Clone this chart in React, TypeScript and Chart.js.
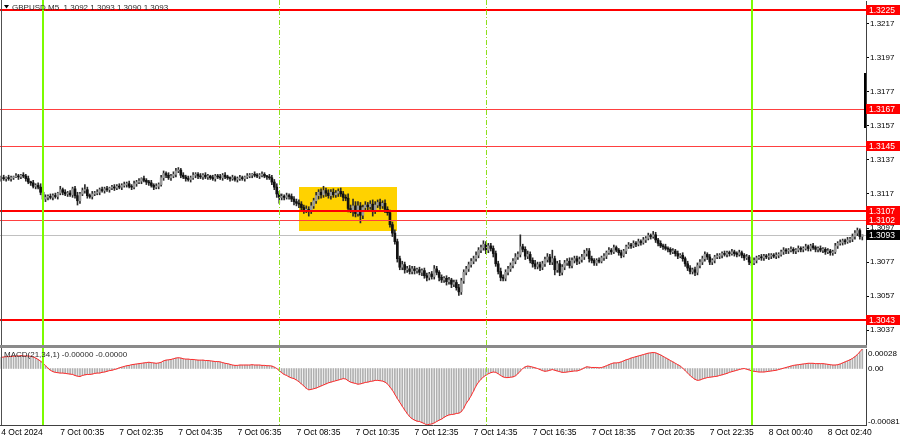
import React, { useEffect, useRef } from "react";
import { Chart, registerables } from "chart.js";

Chart.register(...registerables);

const FONT = '"Liberation Sans", Arial, "DejaVu Sans", sans-serif';

// ---------- data ----------
const SYMBOL = "GBPUSD,M5";
const MACD_TITLE = "MACD(21,34,1) -0.00000 -0.00000";
const SLOT_COUNT = 352; // visible bar slots
const TICK_EVERY = 24; // one time label every 24 bars (2 hours)
const timeTickLabels = [
  "4 Oct 2024", "7 Oct 00:35", "7 Oct 02:35", "7 Oct 04:35", "7 Oct 06:35",
  "7 Oct 08:35", "7 Oct 10:35", "7 Oct 12:35", "7 Oct 14:35", "7 Oct 16:35",
  "7 Oct 18:35", "7 Oct 20:35", "7 Oct 22:35", "8 Oct 00:40", "8 Oct 02:40",
];

const PIP_BASE = 1.3; // prices below are pips above 1.3000
const PIP = 0.0001;
const firstOpenPips = 126;
const closePips = [
  126.5, 126, 126.5, 126, 126.5, 127, 127.5, 127, 128, 127.5,
  126, 124, 123.5, 121.5, 122, 121, 118, 114, 115, 115.5,
  115, 116, 115.5, 117.5, 119.5, 118, 117, 117.5, 116.5, 120,
  116, 113, 117, 119, 119.5, 116, 115.5, 117, 117.5, 118,
  119.5, 119, 120, 119.5, 120.5, 121, 120.5, 121.5, 121, 122,
  122.5, 123, 121.5, 121, 123, 124, 124.5, 126, 125, 124,
  123.5, 122, 121, 121.5, 122.5, 126.5, 129, 128, 126.5, 127.5,
  128.5, 130.5, 131, 128, 127, 126, 125.5, 126.5, 128, 128.5,
  127.5, 127, 128, 127, 127.5, 126.5, 126, 127.5, 127, 126.5,
  128, 127, 126.5, 126, 126.5, 125.5, 126, 126.5, 126, 127,
  127.5, 128, 128.5, 128, 127.5, 128, 128.5, 127.5, 127, 126.5,
  124, 121, 117, 115, 115.5, 115, 116, 115.5, 114, 112.5,
  111.5, 111, 109, 107.5, 108, 107, 110, 113, 116, 118,
  116.5, 119, 117.5, 116, 118, 116.5, 117.5, 118.5, 117, 115,
  114.5, 108.5, 107.5, 110, 105.5, 110, 104.5, 109, 110.5, 109.5,
  111, 107, 110.5, 112, 110, 111.5, 108, 106, 99, 94,
  89, 79, 74, 75.5, 72.5, 73, 71.5, 73, 72, 72.5,
  71, 72, 69, 68, 70, 68.5, 73, 71, 68, 66.5,
  67.5, 65.5, 66.5, 64, 65, 62, 59.5, 66, 71, 73,
  75.5, 77.5, 79, 81, 84, 85.5, 87.5, 84, 86.5, 85,
  82, 76, 71.5, 68, 67.5, 71, 73, 75, 77.5, 80,
  81.5, 86, 84.5, 80.5, 81.5, 78, 76, 74.5, 75.5, 74,
  76, 78.5, 80, 77, 79, 72.5, 76, 71, 74, 76.5,
  77.5, 75, 78, 79, 77.5, 78.5, 80, 82, 83.5, 79,
  78, 76.5, 78, 77.5, 79.5, 80.5, 82.5, 84, 83, 85.5,
  84, 82.5, 81, 83.5, 86, 87, 86.5, 88, 87.5, 89,
  88.5, 90, 91, 92.5, 92, 93, 90, 88, 86.5, 86,
  85, 84.5, 83, 83.5, 82, 80.5, 81, 79, 76, 73.5,
  71.5, 72.5, 71, 75, 77, 79, 81.5, 80, 77, 78,
  80, 80.5, 81, 82, 81.5, 82.5, 82, 83, 82, 81.5,
  82.5, 81, 79.5, 80, 77, 76.5, 78, 79.5, 80, 79.5,
  80.5, 80, 80.5, 81, 80.5, 81, 81.5, 83, 84, 83.5,
  84, 84.5, 83.5, 84, 85, 84.5, 85, 86, 85, 86.5,
  85.5, 84.5, 85, 84, 84.5, 83, 83.5, 82.5, 83, 86.5,
  88, 88.5, 89.5, 89, 90, 90.5, 92, 94, 95.5, 92, 93,
];
const upWickPips = [
  1, 1.5, 0.5, 1.5, 1, 0.5, 1.5, 1, 0.5, 1.5,
  1, 1.5, 0.5, 1.5, 1, 1.5, 2, 1, 1.5, 1,
  1.5, 1, 1.5, 0.5, 2, 1, 1.5, 1, 1.5, 1,
  1.5, 2, 1, 1.5, 3, 1.5, 1, 1.5, 1, 1.5,
  1, 1.5, 1, 1.5, 0.5, 1, 1.5, 1, 1.5, 1,
  1.5, 1, 1.5, 1, 1.5, 1, 1.5, 0.5, 1.5, 1,
  1, 1.5, 1, 1.5, 1, 1.5, 1.5, 1, 1.5, 1,
  1.5, 1.5, 1.5, 1, 1.5, 1, 1.5, 1, 1.5, 1,
  1, 1.5, 1, 1.5, 1, 0.5, 1.5, 1, 1, 1.5,
  1, 1.5, 1, 0.5, 1.5, 1, 1, 1.5, 1, 0.5,
  1.5, 1, 0.5, 1.5, 1, 1, 1.5, 1, 0.5, 1.5,
  1.5, 1.5, 2, 1.5, 1.5, 1, 1.5, 1, 1.5, 1.5,
  1.5, 2, 1.5, 1.5, 2, 1.5, 2, 1.5, 2, 1.5,
  2, 2.5, 1.5, 2, 1.5, 2, 1.5, 1.5, 2, 1.5,
  1.5, 2.5, 2, 4, 2.5, 2.5, 2, 1.5, 2, 1.5,
  2, 2.5, 2, 1.5, 2, 1.5, 2, 1.5, 1.5, 1.5,
  2, 1.5, 1.5, 2, 1.5, 1.5, 2, 1.5, 1.5, 1,
  1.5, 1, 1.5, 1.5, 1, 1.5, 2, 1.5, 1, 1.5,
  1, 1.5, 1.5, 1, 1.5, 1.5, 2, 1.5, 1.5, 1.5,
  1.5, 1.5, 1.5, 2, 1.5, 1.5, 2, 1.5, 1.5, 1.5,
  1.5, 1.5, 1.5, 2, 1.5, 1.5, 1.5, 1.5, 1.5, 2,
  1.5, 7, 1.5, 1.5, 2, 1.5, 1.5, 2, 1.5, 1.5,
  1.5, 1.5, 2, 1.5, 5, 1.5, 1.5, 2, 1.5, 1.5,
  1.5, 2, 1.5, 1.5, 1.5, 1.5, 1.5, 2, 1.5, 1.5,
  1.5, 1, 1, 1.5, 1, 1.5, 1, 1.5, 1, 1.5,
  1, 1, 1.5, 1, 1, 1.5, 1, 1.5, 1, 1.5,
  1, 1.5, 1, 1.5, 1, 2, 1.5, 1, 1.5, 1,
  1.5, 1, 1, 1.5, 1, 1.5, 1, 1.5, 1, 1.5,
  1.5, 1, 1.5, 1.5, 1.5, 1.5, 1.5, 1, 1.5, 1,
  1, 1.5, 1, 1, 1.5, 1, 1, 1.5, 1, 1,
  1.5, 1, 1, 1.5, 1, 1, 1.5, 1, 1, 1.5,
  1, 1, 1.5, 1, 1, 1.5, 1, 1, 1.5, 1,
  1, 1.5, 1, 1, 1.5, 1, 1, 1.5, 1, 1,
  1.5, 1, 1, 1.5, 1, 1, 1.5, 1, 1, 1.5,
  1, 1.5, 1, 1, 1.5, 1, 1.5, 1.5, 1.5, 1, 0,
];
const downWickPips = [
  1.5, 1, 1.5, 1, 1.5, 1, 0.5, 1.5, 1, 1,
  1.5, 1, 1.5, 1, 1.5, 1, 1.5, 3.5, 1.5, 1.5,
  1, 1.5, 1, 1.5, 1, 1.5, 1, 1.5, 1, 1.5,
  1.5, 2.5, 1.5, 1, 1.5, 1.5, 1, 1.5, 1, 1,
  1.5, 1, 1.5, 1, 1.5, 1, 1.5, 1, 1, 1.5,
  1, 1.5, 1, 1.5, 1, 1.5, 1, 1.5, 1, 1.5,
  1.5, 1, 1.5, 1, 1.5, 1, 1.5, 1.5, 1, 1.5,
  1, 1.5, 1, 1.5, 1, 1.5, 1, 1.5, 1, 1.5,
  1.5, 1, 1.5, 1, 1.5, 1, 1, 1.5, 1, 1,
  1.5, 1, 1, 1.5, 1, 1, 1.5, 1, 1, 1.5,
  1, 1, 1.5, 1, 1, 1.5, 1, 1, 1.5, 1,
  1.5, 1.5, 2, 3.5, 1.5, 1.5, 1, 1.5, 1.5, 2,
  1.5, 2, 1.5, 2, 1.5, 3, 1.5, 1.5, 1.5, 2,
  2, 1.5, 2, 1.5, 2, 1.5, 1.5, 2, 1.5, 2,
  1.5, 2, 1.5, 3.5, 2, 1.5, 4.5, 2, 1.5, 2,
  1.5, 3, 1.5, 1.5, 2, 1.5, 2, 1.5, 1.5, 2,
  1.5, 2, 1.5, 1.5, 2, 1.5, 1.5, 1.5, 2, 1.5,
  1.5, 2, 1.5, 2, 1.5, 1.5, 1.5, 1.5, 2, 1.5,
  1.5, 2, 1.5, 2, 1.5, 1.5, 2, 1.5, 1.5, 1.5,
  1.5, 1.5, 1.5, 1.5, 1.5, 1.5, 1.5, 2, 1.5, 1.5,
  2, 1.5, 1.5, 2, 1.5, 1.5, 1.5, 1.5, 1.5, 1.5,
  1.5, 1.5, 1.5, 2, 1.5, 1.5, 2, 1.5, 1.5, 2,
  1.5, 1.5, 1.5, 1.5, 1.5, 3, 1.5, 2, 1.5, 1.5,
  1.5, 1.5, 1.5, 1.5, 2, 1.5, 1.5, 1.5, 1.5, 2,
  1.5, 1.5, 1.5, 1, 1, 1.5, 1.5, 1, 1.5, 1,
  1, 1.5, 1.5, 1, 1.5, 1, 1.5, 1, 1.5, 1,
  1.5, 1, 1.5, 1, 1.5, 1, 1.5, 1.5, 1, 1.5,
  1, 1.5, 1.5, 1, 1.5, 1.5, 1, 1.5, 1.5, 1.5,
  1.5, 1.5, 2, 1.5, 1.5, 1.5, 1.5, 1.5, 1.5, 1.5,
  1.5, 1, 1.5, 1.5, 1, 1.5, 1.5, 1, 1.5, 1.5,
  1, 1.5, 1.5, 1, 1.5, 1.5, 1, 1.5, 1, 1.5,
  1.5, 1, 1.5, 1.5, 1, 1.5, 1.5, 1, 1.5, 1.5,
  1.5, 1, 1.5, 1.5, 1, 1.5, 1.5, 1, 1.5, 1.5,
  1, 1.5, 1.5, 1, 1.5, 1.5, 1, 1.5, 1.5, 1,
  1.5, 1, 1.5, 1.5, 1, 1.5, 1.5, 1.5, 1.5, 1.5, 2,
];
// MACD main line, in units of 0.00001
const macdE5 = [
  16, 16.5, 17, 17, 17.5, 17.5, 18, 18, 18.5, 18,
  18, 18, 17.5, 16.5, 15, 13, 10.5, 7.5, 4, 0.5,
  -2.5, -4.5, -5.5, -6, -6.5, -6.5, -7, -7.5, -8, -8.5,
  -10, -11, -11.5, -10, -9, -8.5, -8.5, -8, -7, -6.5,
  -6.5, -5.5, -5, -4, -3, -2.5, -1.5, -0.5, 1, 2,
  3, 4, 4.5, 5.5, 6, 6.5, 7, 7.5, 8, 8.5,
  9, 8.5, 8, 7.5, 8, 9, 11, 12, 12.5, 13,
  14, 15, 15.5, 15, 14, 13.5, 13.5, 13, 13, 12.5,
  12, 12, 12, 11.5, 11.5, 11, 10.5, 10, 10, 9.5,
  8.5, 7.5, 7, 6, 5, 4.5, 4.5, 5, 5, 5,
  5, 5, 5.5, 5, 5, 5, 4.5, 4.5, 4, 4,
  3.5, 2, 0, -3, -6, -8.5, -10, -12, -13.5, -14.5,
  -16.5, -19, -22, -25, -28.5, -30.5, -30, -29, -28, -26.5,
  -25, -23.5, -22, -20.5, -19.5, -18.5, -17.5, -16.5, -15.5, -14.5,
  -15, -17.5, -19.5, -20.5, -21.5, -22.5, -22, -21, -20, -19.5,
  -18.5, -18, -17, -17, -17.5, -18, -19.5, -22, -26.5, -31,
  -37, -43, -48.5, -54, -59.5, -64.5, -69, -72, -74, -75.5,
  -76, -77.5, -79, -81, -80, -79.5, -78, -76, -74, -72.5,
  -70, -68, -66.5, -66, -65.5, -64.5, -64, -62, -57, -50,
  -45, -39, -32, -25, -19.5, -15.5, -12, -9.5, -7.5, -6,
  -5, -5.5, -7.5, -10, -12, -13, -13, -12.5, -12, -10.5,
  -7.5, -3.5, 0, 2.5, 3.5, 3, 2, 1, 0, -1.5,
  -3, -4, -3.5, -2.5, -1.5, -2.5, -3.5, -4.5, -5.5, -5.5,
  -5, -4.5, -4, -3.5, -3.5, -2.5, -1, 1, 2.5, 2,
  1.5, 1.5, 1.5, 1, 1.5, 2.5, 4, 5.5, 7, 8,
  8, 8.5, 9.5, 11, 12.5, 13.5, 15, 16, 17, 18,
  19, 20, 21, 22, 22.5, 23, 22.5, 21, 19.5, 17.5,
  15.5, 13.5, 11.5, 9.5, 7.5, 5.5, 3.5, 0.5, -3, -6.5,
  -10, -13, -15.5, -17, -16.5, -15, -14, -13, -12.5, -12,
  -11.5, -11, -10, -9, -8, -7, -5.5, -4.5, -3.5, -2.5,
  -1.5, -0.5, 0, -1, -2, -3.5, -4, -4.5, -5, -5,
  -5, -4.5, -4, -3.5, -3, -2.5, -1.5, -0.5, 0.5, 1.5,
  2.5, 3.5, 4.5, 5, 5.5, 6, 6.5, 7, 7.5, 7.5,
  7.5, 7, 7, 7, 7, 6.5, 6, 5.5, 5, 5,
  5.5, 6.5, 8, 9.5, 11, 12.5, 14.5, 17, 20, 24, 28,
];

const priceTicks = [1.3037, 1.3057, 1.3077, 1.3097, 1.3117, 1.3137, 1.3157, 1.3177, 1.3197, 1.3217];
const priceAxisMin = 1.302832;
const priceAxisMax = 1.323028;

const levelPrices = [1.3225, 1.3167, 1.3145, 1.3107, 1.3102, 1.3043];
const levelWidths = [2, 1, 1, 2, 1, 2];
const bidPrice = 1.3093;

// time markers (bar indexes)
const solidVLineBars = [17, 305];
const dashedVLineBars = [113, 197];

// highlighted zone
const zoneStartBar = 121;
const zoneEndBar = 161;
const zoneTopPrice = 1.3121;
const zoneBottomPrice = 1.3095;

// marker on the right edge
const edgeMarkTop = 1.3188;
const edgeMarkBottom = 1.31557;

// ---------- derived tables ----------
const toPrice = (p: number) => Math.round((PIP_BASE + p * PIP) * 100000) / 100000;
const slotLabels = Array.from({ length: SLOT_COUNT }, (_, i) => String(i));
const openPips = closePips.map((c, i) => (i === 0 ? firstOpenPips : closePips[i - 1]));
const highPips = closePips.map((c, i) => Math.max(openPips[i], c) + upWickPips[i]);
const lowPips = closePips.map((c, i) => Math.min(openPips[i], c) - downWickPips[i]);
const bodies = closePips.map((c, i) => [toPrice(openPips[i]), toPrice(c)]);
const wicks = closePips.map((c, i) => [toPrice(lowPips[i]), toPrice(highPips[i])]);
const bodyFill = closePips.map((c, i) => (c > openPips[i] ? "#9a9a9a" : "#111111"));
const macdValues = macdE5.map((v) => v * 1e-5);
const macdMax = Math.max(...macdE5) * 1e-5;
const macdMin = Math.min(...macdE5) * 1e-5;

const last = closePips.length - 1;
const headerText = `${SYMBOL}  ${toPrice(openPips[last]).toFixed(4)} ${toPrice(highPips[last]).toFixed(4)} ${toPrice(lowPips[last]).toFixed(4)} ${toPrice(closePips[last]).toFixed(4)}`;

// ---------- drawing helpers ----------
function drawVLines(ctx: CanvasRenderingContext2D, x: any, top: number, bottom: number) {
  ctx.save();
  ctx.strokeStyle = "#7cfc00";
  ctx.lineWidth = 2;
  solidVLineBars.forEach((b) => {
    const px = Math.round(x.getPixelForValue(b));
    ctx.beginPath();
    ctx.moveTo(px, top);
    ctx.lineTo(px, bottom);
    ctx.stroke();
  });
  ctx.lineWidth = 1;
  ctx.strokeStyle = "#8fe01a";
  ctx.setLineDash([5, 2, 1, 2]);
  dashedVLineBars.forEach((b) => {
    const px = Math.round(x.getPixelForValue(b)) + 0.5;
    ctx.beginPath();
    ctx.moveTo(px, top);
    ctx.lineTo(px, bottom);
    ctx.stroke();
  });
  ctx.restore();
}

function leftBorder(ctx: CanvasRenderingContext2D, bottom: number) {
  ctx.save();
  ctx.strokeStyle = "#505050";
  ctx.lineWidth = 1;
  ctx.beginPath();
  ctx.moveTo(1.5, 0);
  ctx.lineTo(1.5, bottom);
  ctx.stroke();
  ctx.restore();
}

const zeroPad = (s: any) => {
  s.paddingTop = 0;
  s.paddingBottom = 0;
  s.paddingLeft = 0;
  s.paddingRight = 0;
};

const mainOverlay = {
  id: "mainOverlay",
  beforeDatasetsDraw(chart: any) {
    const { ctx, chartArea: a, scales } = chart;
    const x = scales.x;
    const y = scales.y;
    ctx.save();
    ctx.beginPath();
    ctx.rect(a.left, a.top, a.right - a.left, a.bottom - a.top);
    ctx.clip();
    const x1 = Math.round(x.getPixelForValue(zoneStartBar));
    const x2 = Math.round(x.getPixelForValue(zoneEndBar));
    const y1 = Math.round(y.getPixelForValue(zoneTopPrice));
    const y2 = Math.round(y.getPixelForValue(zoneBottomPrice));
    ctx.fillStyle = "#ffd200";
    ctx.fillRect(x1, y1, x2 - x1, y2 - y1);
    const yb = Math.round(y.getPixelForValue(bidPrice)) + 0.5;
    ctx.strokeStyle = "#c0c0c0";
    ctx.lineWidth = 1;
    ctx.beginPath();
    ctx.moveTo(a.left, yb);
    ctx.lineTo(a.right, yb);
    ctx.stroke();
    ctx.restore();
  },
  afterDatasetsDraw(chart: any) {
    const { ctx, chartArea: a, scales } = chart;
    const x = scales.x;
    const y = scales.y;
    ctx.save();
    ctx.beginPath();
    ctx.rect(a.left, 0, a.right - a.left, a.bottom);
    ctx.clip();
    levelPrices.forEach((p, i) => {
      const w = levelWidths[i];
      const py = Math.round(y.getPixelForValue(p)) + (w === 1 ? 0.5 : 0);
      ctx.strokeStyle = w === 1 ? "#ff4040" : "#ff0000";
      ctx.lineWidth = w;
      ctx.beginPath();
      ctx.moveTo(a.left, py);
      ctx.lineTo(a.right, py);
      ctx.stroke();
    });
    drawVLines(ctx, x, 0, a.bottom);
    ctx.restore();
  },
  afterDraw(chart: any) {
    const { ctx, chartArea: a, scales } = chart;
    const y = scales.y;
    ctx.save();
    ctx.font = `8.5px ${FONT}`;
    ctx.textBaseline = "middle";
    ctx.textAlign = "left";
    levelPrices.forEach((p) => {
      const py = Math.round(y.getPixelForValue(p));
      ctx.fillStyle = "#ff0000";
      ctx.fillRect(a.right, py - 5, 34, 10);
      ctx.fillStyle = "#ffffff";
      ctx.fillText(p.toFixed(4), a.right + 3, py + 0.5);
    });
    const pb = Math.round(y.getPixelForValue(bidPrice));
    ctx.fillStyle = "#000000";
    ctx.fillRect(a.right, pb - 5, 34, 10);
    ctx.fillStyle = "#ffffff";
    ctx.fillText(bidPrice.toFixed(4), a.right + 3, pb + 0.5);

    // marker at right edge
    ctx.strokeStyle = "#000";
    ctx.lineWidth = 2;
    ctx.beginPath();
    ctx.moveTo(a.right - 1, y.getPixelForValue(edgeMarkTop));
    ctx.lineTo(a.right - 1, y.getPixelForValue(edgeMarkBottom));
    ctx.stroke();

    // header
    ctx.fillStyle = "#000";
    ctx.beginPath();
    ctx.moveTo(4, 5);
    ctx.lineTo(9, 5);
    ctx.lineTo(6.5, 8.5);
    ctx.closePath();
    ctx.fill();
    ctx.fillStyle = "#2a2a2a";
    ctx.font = `8px ${FONT}`;
    ctx.fillText(headerText, 12, 7.5);
    ctx.restore();
    leftBorder(ctx, chart.height);
  },
};

const macdOverlay = {
  id: "macdOverlay",
  afterDatasetsDraw(chart: any) {
    const { ctx, chartArea: a, scales } = chart;
    ctx.save();
    ctx.beginPath();
    ctx.rect(a.left, 0, a.right - a.left, a.bottom);
    ctx.clip();
    drawVLines(ctx, scales.x, 0, a.bottom);
    ctx.restore();
  },
  afterDraw(chart: any) {
    const { ctx, chartArea: a, scales } = chart;
    const y = scales.y;
    ctx.save();
    ctx.font = `8px ${FONT}`;
    ctx.textBaseline = "middle";
    ctx.textAlign = "left";
    ctx.fillStyle = "#2a2a2a";
    ctx.fillText(MACD_TITLE, 4, a.top + 6);
    ctx.fillStyle = "#000";
    const items: [string, number][] = [
      [macdMax.toFixed(5), a.top + 5],
      ["0.00", Math.round(y.getPixelForValue(0))],
      [macdMin.toFixed(5), a.bottom - 3.5],
    ];
    items.forEach(([txt, py]) => {
      ctx.fillText(txt, a.right + 2, py);
    });
    ctx.restore();
    leftBorder(ctx, a.bottom);
  },
};

export default function App() {
  const mainRef = useRef<HTMLCanvasElement>(null);
  const macdRef = useRef<HTMLCanvasElement>(null);

  useEffect(() => {
    document.body.style.margin = "0";
    const main = new Chart(mainRef.current as HTMLCanvasElement, {
      type: "bar",
      data: {
        labels: slotLabels,
        datasets: [
          {
            label: "body",
            data: bodies as any,
            backgroundColor: bodyFill,
            borderWidth: 0,
            barThickness: 2,
            minBarLength: 1,
            grouped: false,
            order: 0,
          },
          {
            label: "wick",
            data: wicks as any,
            backgroundColor: "#2a2a2a",
            barThickness: 1,
            grouped: false,
            order: 1,
          },
        ],
      },
      options: {
        animation: false,
        responsive: false,
        devicePixelRatio: 1,
        events: [],
        layout: { padding: { top: 1, bottom: 2, left: 0, right: 0 } },
        plugins: { legend: { display: false }, tooltip: { enabled: false } },
        scales: {
          x: { display: false, offset: true, grid: { display: false } },
          y: {
            position: "right",
            min: priceAxisMin,
            max: priceAxisMax,
            afterFit: (s: any) => {
              s.width = 34;
              zeroPad(s);
            },
            afterBuildTicks: (s: any) => {
              s.ticks = priceTicks.map((v) => ({ value: v }));
            },
            ticks: {
              callback: (v: any) => Number(v).toFixed(4),
              font: { family: FONT, size: 8 },
              color: "#000",
              padding: 1,
              autoSkip: false,
            },
            grid: { display: true, drawOnChartArea: false, drawTicks: true, tickLength: 3, color: "#000" },
            border: { display: true, color: "#404040" },
          },
        },
      } as any,
      plugins: [mainOverlay],
    });

    const macd = new Chart(macdRef.current as HTMLCanvasElement, {
      type: "bar",
      data: {
        labels: slotLabels,
        datasets: [
          {
            type: "line",
            label: "signal",
            data: macdValues,
            borderColor: "#ff2a2a",
            borderWidth: 1,
            pointRadius: 0,
            tension: 0,
            order: 0,
          } as any,
          {
            type: "bar",
            label: "macd",
            data: macdValues,
            backgroundColor: "#b0b0b0",
            barThickness: 1,
            order: 1,
          },
        ],
      },
      options: {
        animation: false,
        responsive: false,
        devicePixelRatio: 1,
        events: [],
        layout: { padding: { top: 2, bottom: 0, left: 0, right: 0 } },
        plugins: { legend: { display: false }, tooltip: { enabled: false } },
        scales: {
          x: {
            offset: true,
            afterFit: (s: any) => {
              s.height = 16;
              zeroPad(s);
            },
            ticks: {
              autoSkip: false,
              maxRotation: 0,
              minRotation: 0,
              align: "start",
              padding: 3,
              color: "#000",
              font: { family: FONT, size: 8.5 },
              callback: (_v: any, i: number) =>
                i % TICK_EVERY === 0 && timeTickLabels[i / TICK_EVERY] ? timeTickLabels[i / TICK_EVERY] : "",
            },
            grid: { display: false, drawTicks: false },
            border: { display: true, color: "#404040" },
          },
          y: {
            position: "right",
            min: macdMin,
            max: macdMax,
            afterFit: (s: any) => {
              s.width = 34;
              zeroPad(s);
            },
            ticks: { display: false },
            grid: { display: false, drawTicks: false },
            border: { display: true, color: "#404040" },
          },
        },
      } as any,
      plugins: [macdOverlay],
    });

    return () => {
      main.destroy();
      macd.destroy();
    };
  }, []);

  return (
    <div style={{ position: "relative", width: 900, height: 441, background: "#ffffff", overflow: "hidden" }}>
      <canvas
        ref={mainRef}
        width={900}
        height={347}
        style={{ position: "absolute", left: 0, top: 0, width: 900, height: 347 }}
      />
      <canvas
        ref={macdRef}
        width={900}
        height={94}
        style={{ position: "absolute", left: 0, top: 347, width: 900, height: 94 }}
      />
      <div style={{ position: "absolute", left: 0, top: 345, width: 867, height: 3, background: "#8a8a8a" }} />
    </div>
  );
}
